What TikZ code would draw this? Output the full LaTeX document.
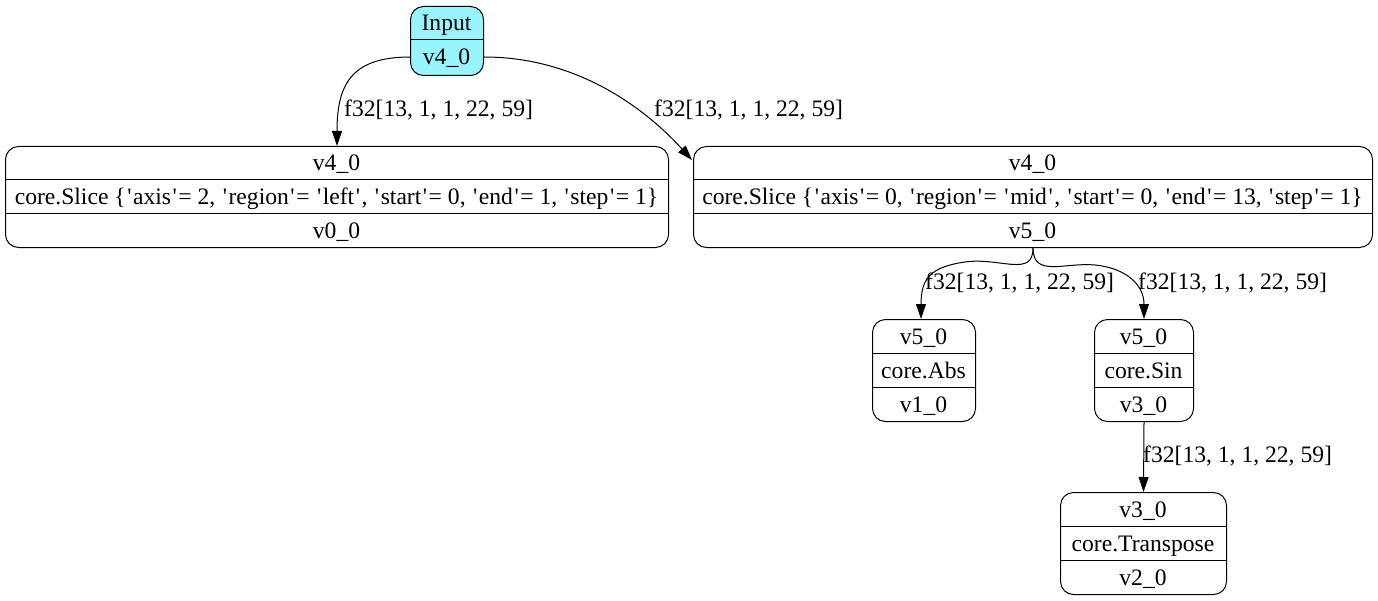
\documentclass[tikz,border=0pt]{standalone}
\usepackage{fontspec}
\setmainfont{Liberation Serif}[Ligatures=TeXOff]
\usetikzlibrary{arrows.meta}
\definecolor{inputfill}{HTML}{98F5FF}
% straight single quote with a little room around it
\newcommand{\sqt}{\kern1.55bp'\kern1.55bp}
\begin{document}
\begin{tikzpicture}[x=1bp,y=-1bp,
  every node/.style={font=\fontsize{23.6bp}{28bp}\selectfont},
  rec/.style={draw, line width=1bp, rounded corners=13bp, inner sep=0pt, anchor=north west},
  cell/.style={anchor=base, inner sep=0pt},
  lab/.style={anchor=west, inner sep=0pt},
  sep/.style={line width=1bp},
  edge/.style={line width=1bp, -{Triangle[length=15bp,width=10bp]}}]
\useasboundingbox (0,0) rectangle (1378,601);

% Input
\node[rec, fill=inputfill, minimum width=73bp, minimum height=69bp] (in) at (410,6) {};
\draw[sep] (410,40) -- (483,40);
\node[cell] (in-a) at (446.5,31) {Input};
\node[cell] (in-b) at (446.5,65) {v4\_0};

% left slice
\node[rec, minimum width=663bp, minimum height=101bp] (ls) at (5,146) {};
\draw[sep] (5,180) -- (668,180);
\draw[sep] (5,213) -- (668,213);
\node[cell] (ls-a) at (336.5,171) {v4\_0};
\node[cell] (ls-b) at (336.5,204.5) {core.Slice \{\sqt axis\sqt= 2, \sqt region\sqt= \sqt left\sqt, \sqt start\sqt= 0, \sqt end\sqt= 1, \sqt step\sqt= 1\}};
\node[cell] (ls-c) at (336.5,238) {v0\_0};

% right slice
\node[rec, minimum width=679bp, minimum height=101bp] (rs) at (693,146) {};
\draw[sep] (693,180) -- (1372,180);
\draw[sep] (693,213) -- (1372,213);
\node[cell] (rs-a) at (1032.5,171) {v4\_0};
\node[cell] (rs-b) at (1032.5,204.5) {core.Slice \{\sqt axis\sqt= 0, \sqt region\sqt= \sqt mid\sqt, \sqt start\sqt= 0, \sqt end\sqt= 13, \sqt step\sqt= 1\}};
\node[cell] (rs-c) at (1032.5,238) {v5\_0};

% abs
\node[rec, minimum width=103bp, minimum height=102bp] (ab) at (872,319) {};
\draw[sep] (872,353) -- (975,353);
\draw[sep] (872,387) -- (975,387);
\node[cell] (ab-a) at (923.5,344) {v5\_0};
\node[cell] (ab-b) at (923.5,378) {core.Abs};
\node[cell] (ab-c) at (923.5,412) {v1\_0};

% sin
\node[rec, minimum width=99bp, minimum height=102bp] (sn) at (1094,319) {};
\draw[sep] (1094,353) -- (1193,353);
\draw[sep] (1094,387) -- (1193,387);
\node[cell] (sn-a) at (1143.5,344) {v5\_0};
\node[cell] (sn-b) at (1143.5,378) {core.Sin};
\node[cell] (sn-c) at (1143.5,412) {v3\_0};

% transpose
\node[rec, minimum width=166bp, minimum height=102bp] (tr) at (1060,492) {};
\draw[sep] (1060,526) -- (1226,526);
\draw[sep] (1060,560) -- (1226,560);
\node[cell] (tr-a) at (1143,517) {v3\_0};
\node[cell] (tr-b) at (1143,551) {core.Transpose};
\node[cell] (tr-c) at (1143,585) {v2\_0};

% connectors
\draw[edge] (in.west |- 0,57) .. controls +(-60,0) and +(0,-60) .. (ls.north -| 337,0);
\draw[edge] (in.east |- 0,57) .. controls +(90,0) and +(-50,-55) .. (692,160);
\draw[edge] (rs.south) .. controls +(0,30) and +(35,-5) .. (965,262)
  .. controls +(-35,5) and +(0,-40) .. (ab.north -| 921,0);
\draw[edge] (rs.south) .. controls +(0,30) and +(-30,-3) .. (1095,265)
  .. controls +(30,3) and +(0,-35) .. (sn.north);
\draw[edge] (sn.south) -- (tr.north);

% edge labels
\node[lab] (l1) at (344,110) {f32[13, 1, 1, 22, 59]};
\node[lab] (l2) at (654,110) {f32[13, 1, 1, 22, 59]};
\node[lab] (l3) at (925,283) {f32[13, 1, 1, 22, 59]};
\node[lab] (l4) at (1138,283) {f32[13, 1, 1, 22, 59]};
\node[lab] (l5) at (1143,456) {f32[13, 1, 1, 22, 59]};
\end{tikzpicture}
\end{document}
